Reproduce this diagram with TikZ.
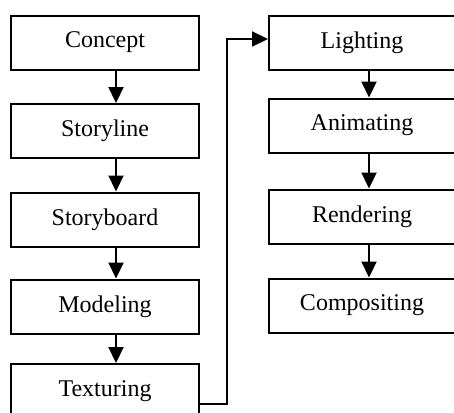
\documentclass[tikz,border=0pt]{standalone}
\usepackage{fontspec}
\setmainfont{Liberation Serif}
\usetikzlibrary{arrows.meta}
\begin{document}
\begin{tikzpicture}[x=0.5pt,y=-0.5pt,
	stage/.style={draw,line width=1pt,minimum height=27pt,inner sep=0pt,font=\fontsize{12}{14}\selectfont},
	lstage/.style={stage,minimum width=94pt},
	rstage/.style={stage,minimum width=93pt},
	arr/.style={line width=1.1pt,-{Triangle[length=8pt,width=7.5pt]}}]
	\useasboundingbox (0,0) rectangle (454,412);
	% left column
	\node[lstage] (concept) at (105,42.5) {Concept};
	\node[lstage] (storyline) at (105,131) {Storyline};
	\node[lstage] (storyboard) at (105,219.5) {Storyboard};
	\node[lstage] (modeling) at (105,306.5) {Modeling};
	\node[lstage] (texturing) at (105,391) {Texturing};
	% right column
	\node[rstage] (lighting) at (362,43) {Lighting};
	\node[rstage] (animating) at (362,125.5) {Animating};
	\node[rstage] (rendering) at (362,216.5) {Rendering};
	\node[rstage] (compositing) at (362,305.5) {Compositing};
	\draw[arr] ([xshift=5.5pt]concept.south) -- ([xshift=5.5pt]storyline.north);
	\draw[arr] ([xshift=5.5pt]storyline.south) -- ([xshift=5.5pt]storyboard.north);
	\draw[arr] ([xshift=5.5pt]storyboard.south) -- ([xshift=5.5pt]modeling.north);
	\draw[arr] ([xshift=5.5pt]modeling.south) -- ([xshift=5.5pt]texturing.north);
	\draw[arr] ([yshift=-6.5pt]texturing.east) -- ++(27,0) |- ([yshift=2pt]lighting.west);
	\draw[arr] ([xshift=3.5pt]lighting.south) -- ([xshift=3.5pt]animating.north);
	\draw[arr] ([xshift=3.5pt]animating.south) -- ([xshift=3.5pt]rendering.north);
	\draw[arr] ([xshift=3.5pt]rendering.south) -- ([xshift=3.5pt]compositing.north);
\end{tikzpicture}
\end{document}
